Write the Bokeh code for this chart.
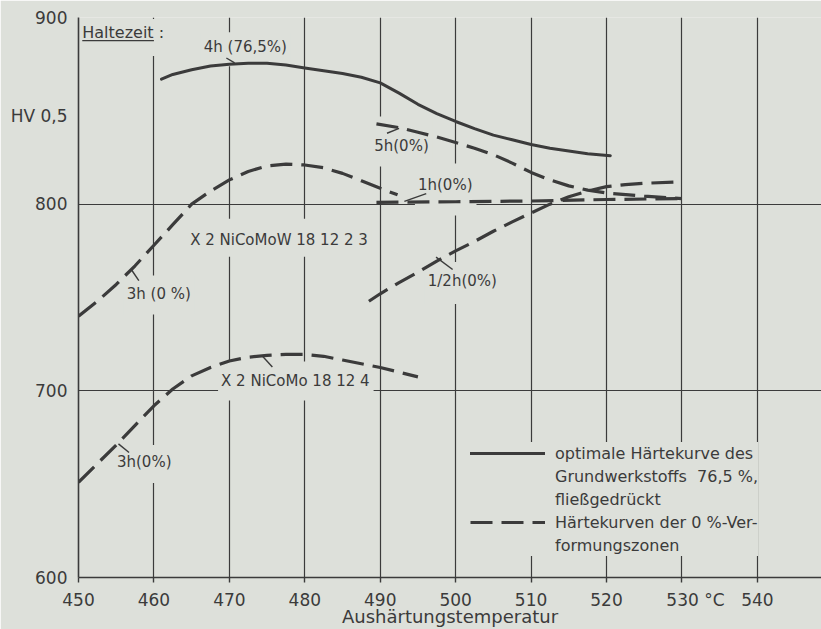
from bokeh.plotting import figure
from bokeh.models import Label, Legend, LegendItem, FixedTicker, Range1d
from bokeh.core.properties import value
from bokeh.embed import file_html
from bokeh.resources import INLINE

BG = "#dde0da"
INK = "#3b3b3b"
FONT = "DejaVu Sans"
NB = "\u00a0"

# ---------------- data ----------------
x_ticks = [450, 460, 470, 480, 490, 500, 510, 520, 530, 540]
y_ticks = [600, 700, 800, 900]
y_unit_tick = 847          # position of the "HV 0,5" unit text
y_unit = "HV 0,5"
x_unit = "°C"              # printed after the 530 tick

# optimale Härtekurve, 4h (76,5 %)
base_4h_T = [461, 462.5, 465, 467.5, 470, 472.5, 475, 477.5, 480, 482.5, 485, 487.5,
             490, 492.5, 495, 497.5, 500, 502.5, 505, 507.5, 510, 512.5, 515, 517.5, 520.5]
base_4h_HV = [867, 869.5, 872, 874, 875, 875.5, 875.5, 874.5, 873, 871.5, 870, 868,
              865, 859.5, 853.5, 848.5, 844.3, 840.5, 837, 834.5, 832, 830, 828.5, 827, 826]

# X2 NiCoMoW 18 12 2 3, 3h (0 %)
w_3h_T = [450, 452.5, 455, 457.5, 460, 462.5, 465, 467.5, 470, 472.5, 475, 477.5,
          480, 482.5, 485, 487.5, 490, 492.3]
w_3h_HV = [740, 748, 757, 767, 778, 789, 800, 807, 813, 817.5, 820.5, 821.5,
           821, 819.5, 816.5, 812.5, 808.5, 805]

# 5h (0 %)
w_5h_T = [489.5, 492.5, 495, 497.5, 500, 502.5, 505, 507.5, 510, 512.5, 515, 517.5, 520, 525, 530]
w_5h_HV = [843, 841, 838.5, 836, 833, 830, 826.5, 822, 817, 813, 809.8, 807.5, 806, 804.3, 803]

# 1h (0 %)
w_1h_T = [489.5, 500, 510, 520, 530]
w_1h_HV = [801, 801.3, 801.7, 802.5, 803]

# 1/2h (0 %)
w_05h_T = [488.5, 490, 492.5, 495, 497.5, 500, 502.5, 505, 507.5, 510, 512.5, 515,
           517.5, 520, 522.5, 525, 530]
w_05h_HV = [748, 752, 758, 763.5, 769.5, 775, 780, 785.5, 790.5, 795.3, 800, 804,
            807, 809.4, 810.5, 811.2, 812]

# X2 NiCoMo 18 12 4, 3h (0 %)
m_3h_T = [450, 452.5, 455, 457.5, 460, 462.5, 465, 467.5, 470, 472.5, 475, 477.5,
          480, 482.5, 485, 487.5, 490, 492.5, 495]
m_3h_HV = [651, 661, 671, 681.5, 692, 701, 708, 712.5, 716, 718, 719, 719.5,
           719.5, 718.5, 716.5, 714.5, 712.5, 710, 707.5]

# annotation texts and anchor points (data units: left edge / vertical centre of text)
ann_text = ["Haltezeit :", "4h (76,5%)", "5h(0%)", "1h(0%)", "X 2 NiCoMoW 18 12 2 3", "1/2h(0%)",
            "3h (0 %)", "X 2 NiCoMo 18 12 4", "3h(0%)"]
ann_size = ["16px", "15px", "15px", "15px", "15px", "15px", "15px", "15px", "15px"]
ann_x = [450.5, 466.6, 489.2, 495.0, 464.8, 496.3, 456.4, 468.9, 455.1]
ann_y = [892.0, 884.0, 831.4, 810.0, 781.0, 758.8, 752.1, 705.5, 661.9]
# gap of the grid around each annotation: top, bottom (px)
ann_pad_top = [4, 6, 20, 13, 12, 10, 9, 10, 8]
ann_pad_bottom = [14, 10, 12, 21, 8, 14, 12, 11, 12]

# leader strokes from labels to curves
lead_x0 = [469.6, 490.9, 493.2, 497.4, 457.0, 474.4, 455.3]
lead_y0 = [878.3, 838.0, 801.5, 771.6, 765.0, 718.5, 671.6]
lead_x1 = [470.7, 492.5, 496.1, 499.6, 458.0, 475.7, 456.7]
lead_y1 = [875.7, 840.6, 805.6, 765.0, 759.0, 712.8, 667.0]

legend_lines = ["optimale Härtekurve des", "Grundwerkstoffs  76,5 %,", "fließgedrückt",
                "Härtekurven der 0 %-Ver-", "formungszonen"]

# ---------------- figure ----------------
p = figure(width=821, height=629, x_range=Range1d(450, 548.5), y_range=Range1d(600, 900),
           output_backend="svg", toolbar_location=None,
           min_border_left=78, min_border_right=0, min_border_top=17, min_border_bottom=51,
           background_fill_color=BG, border_fill_color=BG, outline_line_color=None)

PX_X = 743 / (548.5 - 450)   # px per degree
PX_Y = 561 / 300             # px per HV unit

p.xaxis.ticker = FixedTicker(ticks=x_ticks)
p.yaxis.ticker = FixedTicker(ticks=y_ticks + [y_unit_tick])
p.yaxis.major_label_overrides = {y_unit_tick: y_unit}
p.xaxis.major_label_overrides = {530: NB * 5 + "530 " + x_unit}
p.xgrid.ticker = FixedTicker(ticks=x_ticks[1:])
p.ygrid.ticker = FixedTicker(ticks=y_ticks[1:])
for g in (p.xgrid, p.ygrid):
    g.grid_line_color = INK
    g.grid_line_width = 1.2
    g.grid_line_alpha = 1.0
    g.level = "image"

for ax in (p.xaxis, p.yaxis):
    ax.axis_line_color = INK
    ax.axis_line_width = 1.6
    ax.major_tick_line_color = INK
    ax.major_tick_line_width = 1.4
    ax.major_tick_in = 0
    ax.minor_tick_line_color = None
    ax.major_label_text_font = FONT
    ax.major_label_text_font_size = "17px"
    ax.major_label_text_color = INK
p.xaxis.major_tick_out = 5
p.xaxis.major_label_standoff = 7
p.yaxis.major_tick_out = 0
p.yaxis.major_label_standoff = 11
p.xaxis.axis_label = "Aushärtungstemperatur"
p.xaxis.axis_label_text_font = FONT
p.xaxis.axis_label_text_font_size = "18px"
p.xaxis.axis_label_text_font_style = "normal"
p.xaxis.axis_label_text_color = INK
p.xaxis.axis_label_standoff = -7

# ---------------- annotation labels (their boxes cut gaps into the grid) ----------------
LEFT_PAD = 3
for t, s, x, y, pt, pb in zip(ann_text, ann_size, ann_x, ann_y, ann_pad_top, ann_pad_bottom):
    lab = Label(x=x - LEFT_PAD / PX_X, y=y + (pt - pb) / 2 / PX_Y, text=t,
                text_font=FONT, text_font_size=s, text_color=INK,
                text_baseline="middle", text_align="left",
                background_fill_color=BG, background_fill_alpha=1.0,
                padding=dict(left=LEFT_PAD, right=4, top=pt, bottom=pb),
                level="underlay")
    p.add_layout(lab)

# underline of "Haltezeit"
p.segment(x0=[450.5], y0=[887.6], x1=[460.0], y1=[887.6], line_color=INK, line_width=1.4)

# ---------------- curves ----------------
DASH = "22 9"
r_solid = p.line(base_4h_T, base_4h_HV, line_color=INK, line_width=3, line_cap="round")
r_dash = p.line(w_3h_T, w_3h_HV, line_color=INK, line_width=3.2, line_dash=DASH)
p.line(w_5h_T, w_5h_HV, line_color=INK, line_width=3.2, line_dash=DASH)
p.line(w_1h_T, w_1h_HV, line_color=INK, line_width=3.2, line_dash=DASH)
p.line(w_05h_T, w_05h_HV, line_color=INK, line_width=3.2, line_dash=DASH)
p.line(m_3h_T, m_3h_HV, line_color=INK, line_width=3.2, line_dash=DASH)

p.segment(x0=lead_x0, y0=lead_y0, x1=lead_x1, y1=lead_y1, line_color=INK, line_width=1.4)

# ---------------- legend ----------------
items = [
    LegendItem(label=value(legend_lines[0]), renderers=[r_solid]),
    LegendItem(label=value(legend_lines[1]), renderers=[]),
    LegendItem(label=value(legend_lines[2]), renderers=[]),
    LegendItem(label=value(legend_lines[3]), renderers=[r_dash]),
    LegendItem(label=value(legend_lines[4]), renderers=[]),
]
legend = Legend(items=items, location=(392, 21), glyph_width=75, glyph_height=20,
                label_height=22, label_standoff=10, spacing=1, padding=0, margin=0,
                label_text_font=FONT, label_text_font_size="16px", label_text_color=INK,
                border_line_alpha=0, background_fill_color=BG, background_fill_alpha=1.0)
p.add_layout(legend)

open("out.html", "w").write(file_html(p, INLINE))
